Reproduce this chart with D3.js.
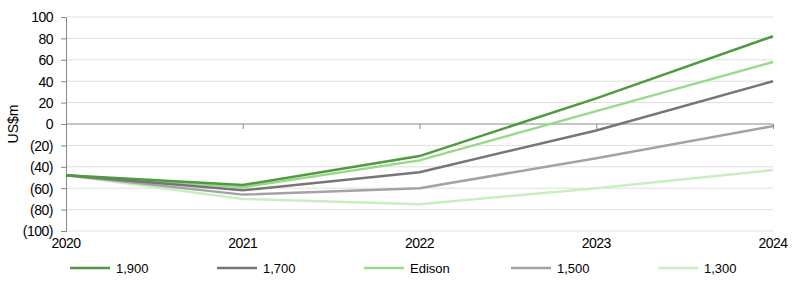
<!DOCTYPE html>
<html>
<head>
<meta charset="utf-8">
<script src="https://cdn.jsdelivr.net/npm/d3@7"></script>
<style>
  body { margin: 0; background: #fff; }
  svg text { font-family: "Liberation Sans", Arial, sans-serif; fill: #000; }
</style>
</head>
<body>
<svg id="chart"></svg>
<script>
const width = 800;
const height = 292;

const years = ["2020", "2021", "2022", "2023", "2024"];
const seriesNames = ["1,900", "1,700", "Edison", "1,500", "1,300"];
const values1900 = [-48, -57, -30, 24, 82];
const values1700 = [-48, -62, -45, -6, 40];
const valuesEdison = [-48, -59, -34, 12, 58];
const values1500 = [-48, -66, -60, -32, -2];
const values1300 = [-48, -70, -75, -60, -43];
const seriesColors = ["#4f9a40", "#767676", "#98da8a", "#a3a3a3", "#c8efbf"];
const yTicks = [-100, -80, -60, -40, -20, 0, 20, 40, 60, 80, 100];

const seriesValues = [values1900, values1700, valuesEdison, values1500, values1300];
const series = seriesNames.map((name, i) => ({ name, color: seriesColors[i], values: seriesValues[i] }));

const margin = { left: 66, right: 27, top: 17, bottom: 61 };

const svg = d3.select("#chart")
    .attr("width", width)
    .attr("height", height);

const x = d3.scalePoint()
    .domain(years)
    .range([margin.left, width - margin.right]);

const y = d3.scaleLinear()
    .domain([-100, 100])
    .range([height - margin.bottom, margin.top]);

const fmt = d => d < 0 ? "(" + Math.abs(d) + ")" : String(d);

// gridlines
svg.append("g")
    .selectAll("line")
    .data(yTicks.filter(d => d !== 0))
    .enter().append("line")
    .attr("x1", margin.left)
    .attr("x2", width - margin.right)
    .attr("y1", d => y(d))
    .attr("y2", d => y(d))
    .attr("stroke", "#dedede")
    .attr("stroke-width", 1);

// y axis
const yAxis = svg.append("g")
    .attr("transform", `translate(${margin.left},0)`)
    .call(d3.axisLeft(y).tickValues(yTicks).tickFormat(fmt).tickSize(5).tickPadding(8));
yAxis.select(".domain").attr("stroke", "#888");
yAxis.selectAll(".tick line").attr("stroke", "#888");
yAxis.selectAll(".tick text")
    .style("font-size", "14px")
    .style("letter-spacing", "-0.5px")
    .attr("dy", "0.35em");

// zero line with category ticks
const zeroAxis = svg.append("g")
    .attr("transform", `translate(0,${y(0)})`)
    .call(d3.axisBottom(x).tickSize(5).tickFormat(""));
zeroAxis.select(".domain").attr("stroke", "#888").attr("d", `M${margin.left},0H${width - margin.right}`);
zeroAxis.selectAll(".tick line").attr("stroke", "#888");

// x labels at bottom
svg.append("g")
    .selectAll("text")
    .data(years)
    .enter().append("text")
    .attr("x", d => x(d))
    .attr("y", y(-100) + 17)
    .attr("text-anchor", "middle")
    .style("font-size", "14px")
    .style("letter-spacing", "-0.5px")
    .text(d => d);

// y title
svg.append("text")
    .attr("transform", `translate(18,${y(0)}) rotate(-90)`)
    .attr("text-anchor", "middle")
    .style("font-size", "14px")
    .text("US$m");

const line = d3.line()
    .x((d, i) => x(years[i]))
    .y(d => y(d));

svg.append("g")
    .selectAll("path")
    .data(series.slice().reverse())
    .enter().append("path")
    .attr("d", d => line(d.values))
    .attr("fill", "none")
    .attr("stroke", d => d.color)
    .attr("stroke-width", 2.5);

// legend
const legend = svg.append("g")
    .selectAll("g")
    .data(series)
    .enter().append("g")
    .attr("transform", (d, i) => `translate(${70 + i * 147},268)`);

legend.append("line")
    .attr("x1", 0)
    .attr("x2", 40)
    .attr("stroke", d => d.color)
    .attr("stroke-width", 2.5);

legend.append("text")
    .attr("x", 46)
    .attr("dy", "0.35em")
    .style("font-size", "13px")
    .text(d => d.name);
</script>
</body>
</html>
